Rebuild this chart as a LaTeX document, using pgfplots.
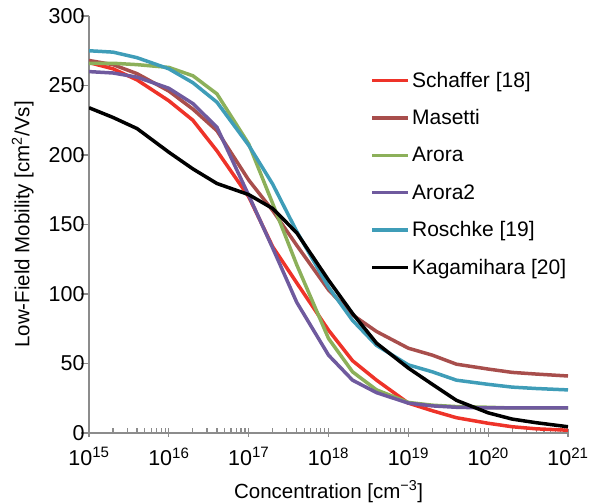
\documentclass[border=0pt]{standalone}
\usepackage{fontspec}
\setmainfont{Liberation Sans}
\usepackage{pgfplots}
\pgfplotsset{compat=1.18}

\definecolor{cSchaffer}{HTML}{EE3329}
\definecolor{cMasetti}{HTML}{A84E4C}
\definecolor{cArora}{HTML}{8CB05A}
\definecolor{cArora2}{HTML}{6F5A9E}
\definecolor{cRoschke}{HTML}{3F9DB8}
\definecolor{axgray}{HTML}{8C8C8C}

\begin{document}
\begin{tikzpicture}
\begin{axis}[
    scale only axis,
    width=479pt, height=417pt,
    xmode=log,
    xmin=1e15, xmax=1e21,
    ymin=0, ymax=300,
    axis lines=left,
    axis line style={-, draw=axgray, line width=1.6pt},
    every outer x axis line/.append style={-},
    every outer y axis line/.append style={-},
    tick align=inside,
    major tick length=8pt,
    minor tick length=5pt,
    tick style={draw=axgray, line width=1.2pt},
    major x tick style={yshift=-4pt},
    major y tick style={xshift=-8pt},
    xtick={1e15,1e16,1e17,1e18,1e19,1e20,1e21},
    xticklabels={10\textsuperscript{15},10\textsuperscript{16},10\textsuperscript{17},10\textsuperscript{18},10\textsuperscript{19},10\textsuperscript{20},10\textsuperscript{21}},
    ytick={0,50,100,150,200,250,300},
    yticklabels={0,50,100,150,200,250,300},
    tick label style={font=\fontsize{21.5}{25}\selectfont},
    xticklabel style={yshift=-11pt},
    yticklabel style={xshift=-1pt},
    label style={font=\fontsize{20.5}{24}\selectfont},
    xlabel={Concentration [cm\textsuperscript{−3}]},
    xlabel style={yshift=-8pt},
    ylabel={Low-Field Mobility [cm\textsuperscript{2}/Vs]},
    ylabel style={yshift=8pt},
    legend style={at={(rel axis cs:0.5875,0.871)}, anchor=north west,
        draw=none, fill=none, font=\fontsize{21}{25}\selectfont,
        row sep=17pt, inner sep=0pt},
    legend cell align=left,
    legend image code/.code={\draw[#1, line width=3.5pt] (0pt,0pt) -- (36pt,0pt);},
    every axis plot/.append style={line width=3.5pt},
]
\addplot[cSchaffer] coordinates {
(1e15,266.5) (2e15,262) (4e15,254) (1e16,239) (2e16,225) (4e16,203)
(1e17,170) (2e17,134) (4e17,108) (1e18,74) (2e18,52) (4e18,38)
(1e19,21.5) (2e19,16) (4e19,11) (1e20,7) (2e20,4.5) (4e20,3) (1e21,2)};
\addlegendentry{Schaffer [18]}
\addplot[cMasetti] coordinates {
(1e15,268) (2e15,265) (4e15,258.5) (1e16,246) (2e16,233) (4e16,217.5)
(1e17,182) (2e17,160) (4e17,135) (1e18,103) (2e18,85) (4e18,73)
(1e19,61) (2e19,56) (4e19,49.5) (1e20,46) (2e20,43.6) (4e20,42.4) (1e21,41)};
\addlegendentry{Masetti}
\addplot[cArora] coordinates {
(1e15,266) (2e15,266) (4e15,265) (1e16,263) (2e16,257) (4e16,244)
(1e17,208) (2e17,165) (4e17,121) (1e18,68) (2e18,44) (4e18,31)
(1e19,22) (2e19,20) (4e19,19) (1e20,18.5) (2e20,18) (4e20,18) (1e21,18)};
\addlegendentry{Arora}
\addplot[cArora2] coordinates {
(1e15,260) (2e15,259) (4e15,256) (1e16,248) (2e16,237) (4e16,220)
(1e17,171) (2e17,133) (4e17,94) (1e18,56) (2e18,38) (4e18,29)
(1e19,21.5) (2e19,19.5) (4e19,18.5) (1e20,18) (2e20,18) (4e20,18) (1e21,18)};
\addlegendentry{Arora2}
\addplot[cRoschke] coordinates {
(1e15,275) (2e15,274) (4e15,270) (1e16,262) (2e16,252) (4e16,238)
(1e17,207) (2e17,179) (4e17,145) (1e18,105) (2e18,81) (4e18,63)
(1e19,49) (2e19,44) (4e19,38) (1e20,35) (2e20,33) (4e20,32) (1e21,31)};
\addlegendentry{Roschke [19]}
\addplot[black] coordinates {
(1e15,234) (2e15,227) (4e15,219) (1e16,202) (2e16,190) (4e16,179.5)
(1e17,171.5) (2e17,161.5) (4e17,144) (1e18,110) (2e18,86) (4e18,64.6)
(1e19,46.7) (2e19,35) (4e19,23.5) (1e20,14.5) (2e20,10) (4e20,7.4) (1e21,4.5)};
\addlegendentry{Kagamihara [20]}
\end{axis}
\pgfresetboundingbox
\path[use as bounding box] (-89pt,-70pt) rectangle (503pt,433pt);
\end{tikzpicture}
\end{document}
